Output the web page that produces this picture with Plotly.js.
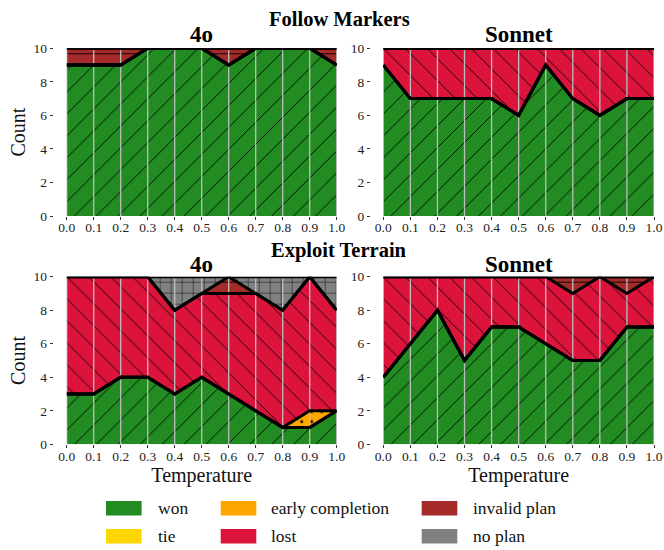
<!DOCTYPE html>
<html><head><meta charset="utf-8">
<script src="https://cdn.plot.ly/plotly-3.0.1.min.js"></script>
<style>html,body{margin:0;padding:0;background:#fff}#chart{width:664px;height:550px}</style>
</head><body><div id="chart"></div>
<script>
// ---------- data ----------
const temperature = [0.0, 0.1, 0.2, 0.3, 0.4, 0.5, 0.6, 0.7, 0.8, 0.9, 1.0];
const xTickLabels = ['0.0','0.1','0.2','0.3','0.4','0.5','0.6','0.7','0.8','0.9','1.0'];
const yTickValues = [0, 2, 4, 6, 8, 10];
const categories = ['won', 'tie', 'early completion', 'lost', 'invalid plan', 'no plan'];
const categoryColors = ['#228B22', '#FFD700', '#FFA500', '#DC143C', '#A52A2A', '#808080'];
const categoryPatterns = ['/', 'x', '.', '\\', '-', '+'];
const taskTitles = ['Follow Markers', 'Exploit Terrain'];
const modelTitles = ['4o', 'Sonnet'];

// Follow Markers - 4o
const fm4oWon      = [9, 9, 9, 10, 10, 10, 9, 10, 10, 10, 9];
const fm4oTie      = [0, 0, 0, 0, 0, 0, 0, 0, 0, 0, 0];
const fm4oEarly    = [0, 0, 0, 0, 0, 0, 0, 0, 0, 0, 0];
const fm4oLost     = [0, 0, 0, 0, 0, 0, 0, 0, 0, 0, 0];
const fm4oInvalid  = [1, 1, 1, 0, 0, 0, 1, 0, 0, 0, 1];
const fm4oNoPlan   = [0, 0, 0, 0, 0, 0, 0, 0, 0, 0, 0];

// Follow Markers - Sonnet
const fmSonWon     = [9, 7, 7, 7, 7, 6, 9, 7, 6, 7, 7];
const fmSonTie     = [0, 0, 0, 0, 0, 0, 0, 0, 0, 0, 0];
const fmSonEarly   = [0, 0, 0, 0, 0, 0, 0, 0, 0, 0, 0];
const fmSonLost    = [1, 3, 3, 3, 3, 4, 1, 3, 4, 3, 3];
const fmSonInvalid = [0, 0, 0, 0, 0, 0, 0, 0, 0, 0, 0];
const fmSonNoPlan  = [0, 0, 0, 0, 0, 0, 0, 0, 0, 0, 0];

// Exploit Terrain - 4o
const et4oWon      = [3, 3, 4, 4, 3, 4, 3, 2, 1, 1, 2];
const et4oTie      = [0, 0, 0, 0, 0, 0, 0, 0, 0, 0, 0];
const et4oEarly    = [0, 0, 0, 0, 0, 0, 0, 0, 0, 1, 0];
const et4oLost     = [7, 7, 6, 6, 5, 5, 6, 7, 7, 8, 6];
const et4oInvalid  = [0, 0, 0, 0, 0, 0, 1, 0, 0, 0, 0];
const et4oNoPlan   = [0, 0, 0, 0, 2, 1, 0, 1, 2, 0, 2];

// Exploit Terrain - Sonnet
const etSonWon     = [4, 6, 8, 5, 7, 7, 6, 5, 5, 7, 7];
const etSonTie     = [0, 0, 0, 0, 0, 0, 0, 0, 0, 0, 0];
const etSonEarly   = [0, 0, 0, 0, 0, 0, 0, 0, 0, 0, 0];
const etSonLost    = [6, 4, 2, 5, 3, 3, 4, 4, 5, 2, 3];
const etSonInvalid = [0, 0, 0, 0, 0, 0, 0, 1, 0, 1, 0];
const etSonNoPlan  = [0, 0, 0, 0, 0, 0, 0, 0, 0, 0, 0];

// ---------- build ----------
const panels = [
  {ax: '', series: [fm4oWon, fm4oTie, fm4oEarly, fm4oLost, fm4oInvalid, fm4oNoPlan]},
  {ax: '2', series: [fmSonWon, fmSonTie, fmSonEarly, fmSonLost, fmSonInvalid, fmSonNoPlan]},
  {ax: '3', series: [et4oWon, et4oTie, et4oEarly, et4oLost, et4oInvalid, et4oNoPlan]},
  {ax: '4', series: [etSonWon, etSonTie, etSonEarly, etSonLost, etSonInvalid, etSonNoPlan]}
];

const patternSizes = {'/': 15.5, '\\': 15.5, '-': 11, '+': 11, '.': 10, 'x': 12};
const patternSolidity = {'/': 0.055, '\\': 0.055, '-': 0.08, '+': 0.08, '.': 0.06, 'x': 0.06};

const traces = [];
panels.forEach((p, pi) => {
  const xa = 'x' + p.ax, ya = 'y' + p.ax;
  p.series.forEach((vals, ci) => {
    const shape = categoryPatterns[ci];
    traces.push({
      type: 'scatter', mode: 'lines', x: temperature, y: vals,
      xaxis: xa, yaxis: ya, stackgroup: 'g' + pi,
      line: {width: 0, color: categoryColors[ci]},
      fillcolor: categoryColors[ci],
      fillpattern: {shape: shape, size: patternSizes[shape], solidity: patternSolidity[shape],
                    fgcolor: '#000000', bgcolor: categoryColors[ci]},
      name: categories[ci], showlegend: false, hoverinfo: 'skip'
    });
  });
  const gx = [], gy = [];
  temperature.forEach(t => { gx.push(t, t, null); gy.push(0, 10, null); });
  traces.push({type: 'scatter', mode: 'lines', x: gx, y: gy, xaxis: xa, yaxis: ya,
    line: {color: '#bdbdbd', width: 1.3}, showlegend: false, hoverinfo: 'skip'});
  const cum = temperature.map(() => 0);
  p.series.forEach((vals, ci) => {
    vals.forEach((v, i) => { cum[i] += v; });
    traces.push({type: 'scatter', mode: 'lines', x: temperature, y: cum.slice(),
      xaxis: xa, yaxis: ya, line: {color: '#000000', width: 3},
      name: categories[ci], showlegend: false, hoverinfo: 'skip'});
  });
});

const W = 664, H = 550;
const px = v => v / W, py = v => 1 - v / H;
const font = 'Liberation Serif';

const xDomL = [px(66.7), px(336.7)], xDomR = [px(383.3), px(654)];
const yDomT = [py(216), py(48.3)], yDomB = [py(444.3), py(276.7)];

function xaxis(dom, anchor, withTitle) {
  const a = {domain: dom, anchor: anchor, range: [0, 1], showgrid: false, zeroline: false, showline: false,
    tickvals: temperature, ticktext: xTickLabels, ticks: 'outside', ticklen: 3, tickwidth: 1, tickcolor: '#333',
    ticklabelstandoff: -4,
    tickfont: {family: font, size: 13.5, color: '#222'}, fixedrange: true};
  if (withTitle) a.title = {text: 'Temperature', font: {family: font, size: 20, color: '#111'}, standoff: 0};
  return a;
}
function yaxis(dom, pos, withTitle) {
  const a = {domain: dom, anchor: 'free', position: pos, range: [0, 10], showgrid: false, zeroline: false, showline: false,
    tickvals: yTickValues, ticks: 'outside', ticklen: 3, tickwidth: 1, tickcolor: '#333',
    tickfont: {family: font, size: 13.5, color: '#222'}, fixedrange: true};
  if (withTitle) a.title = {text: 'Count', font: {family: font, size: 20, color: '#111'}, standoff: 1};
  return a;
}

const annotations = [];
const shapes = [];
[[taskTitles[0], 18.5], [taskTitles[1], 250]].forEach(([t, y]) => {
  annotations.push({text: '<b>' + t + '</b>', xref: 'paper', yref: 'paper', x: px(339), y: py(y),
    xanchor: 'center', yanchor: 'middle', showarrow: false, font: {family: font, size: 20.5, color: '#000'}});
});
[[35, 0], [35, 1], [264.5, 0], [264.5, 1]].forEach(([y, m]) => {
  annotations.push({text: '<b>' + modelTitles[m] + '</b>', xref: 'paper', yref: 'paper',
    x: m === 0 ? px(201.7) : px(518.5), y: py(y), xanchor: 'center', yanchor: 'middle', showarrow: false,
    font: {family: font, size: 23, color: '#000'}});
});
const legSwatchX = [106, 220.7, 421.7], legTextX = [156, 269.3, 471], legRowY = [508.3, 536.3];
categories.forEach((c, i) => {
  const col = Math.floor(i / 2), row = i % 2;
  shapes.push({type: 'rect', xref: 'paper', yref: 'paper',
    x0: px(legSwatchX[col]), x1: px(legSwatchX[col] + 35.6),
    y0: py(legRowY[row] - 7.3), y1: py(legRowY[row] + 7.3),
    fillcolor: categoryColors[i], line: {width: 0}});
  annotations.push({text: c, xref: 'paper', yref: 'paper', x: px(legTextX[col]), y: py(legRowY[row]),
    xanchor: 'left', yanchor: 'middle', showarrow: false, font: {family: font, size: 17.5, color: '#111'}});
});

const layout = {
  width: W, height: H, margin: {l: 0, r: 0, t: 0, b: 0},
  paper_bgcolor: '#fff', plot_bgcolor: '#fff', showlegend: false,
  font: {family: font},
  xaxis: xaxis(xDomL, 'y', false),
  xaxis2: xaxis(xDomR, 'y2', false),
  xaxis3: xaxis(xDomL, 'y3', true),
  xaxis4: xaxis(xDomR, 'y4', true),
  yaxis: yaxis(yDomT, px(52.7), true),
  yaxis2: yaxis(yDomT, px(370), false),
  yaxis3: yaxis(yDomB, px(52.7), true),
  yaxis4: yaxis(yDomB, px(370), false),
  annotations: annotations, shapes: shapes
};

Plotly.newPlot('chart', traces, layout, {displayModeBar: false, staticPlot: true});
</script>
</body></html>
